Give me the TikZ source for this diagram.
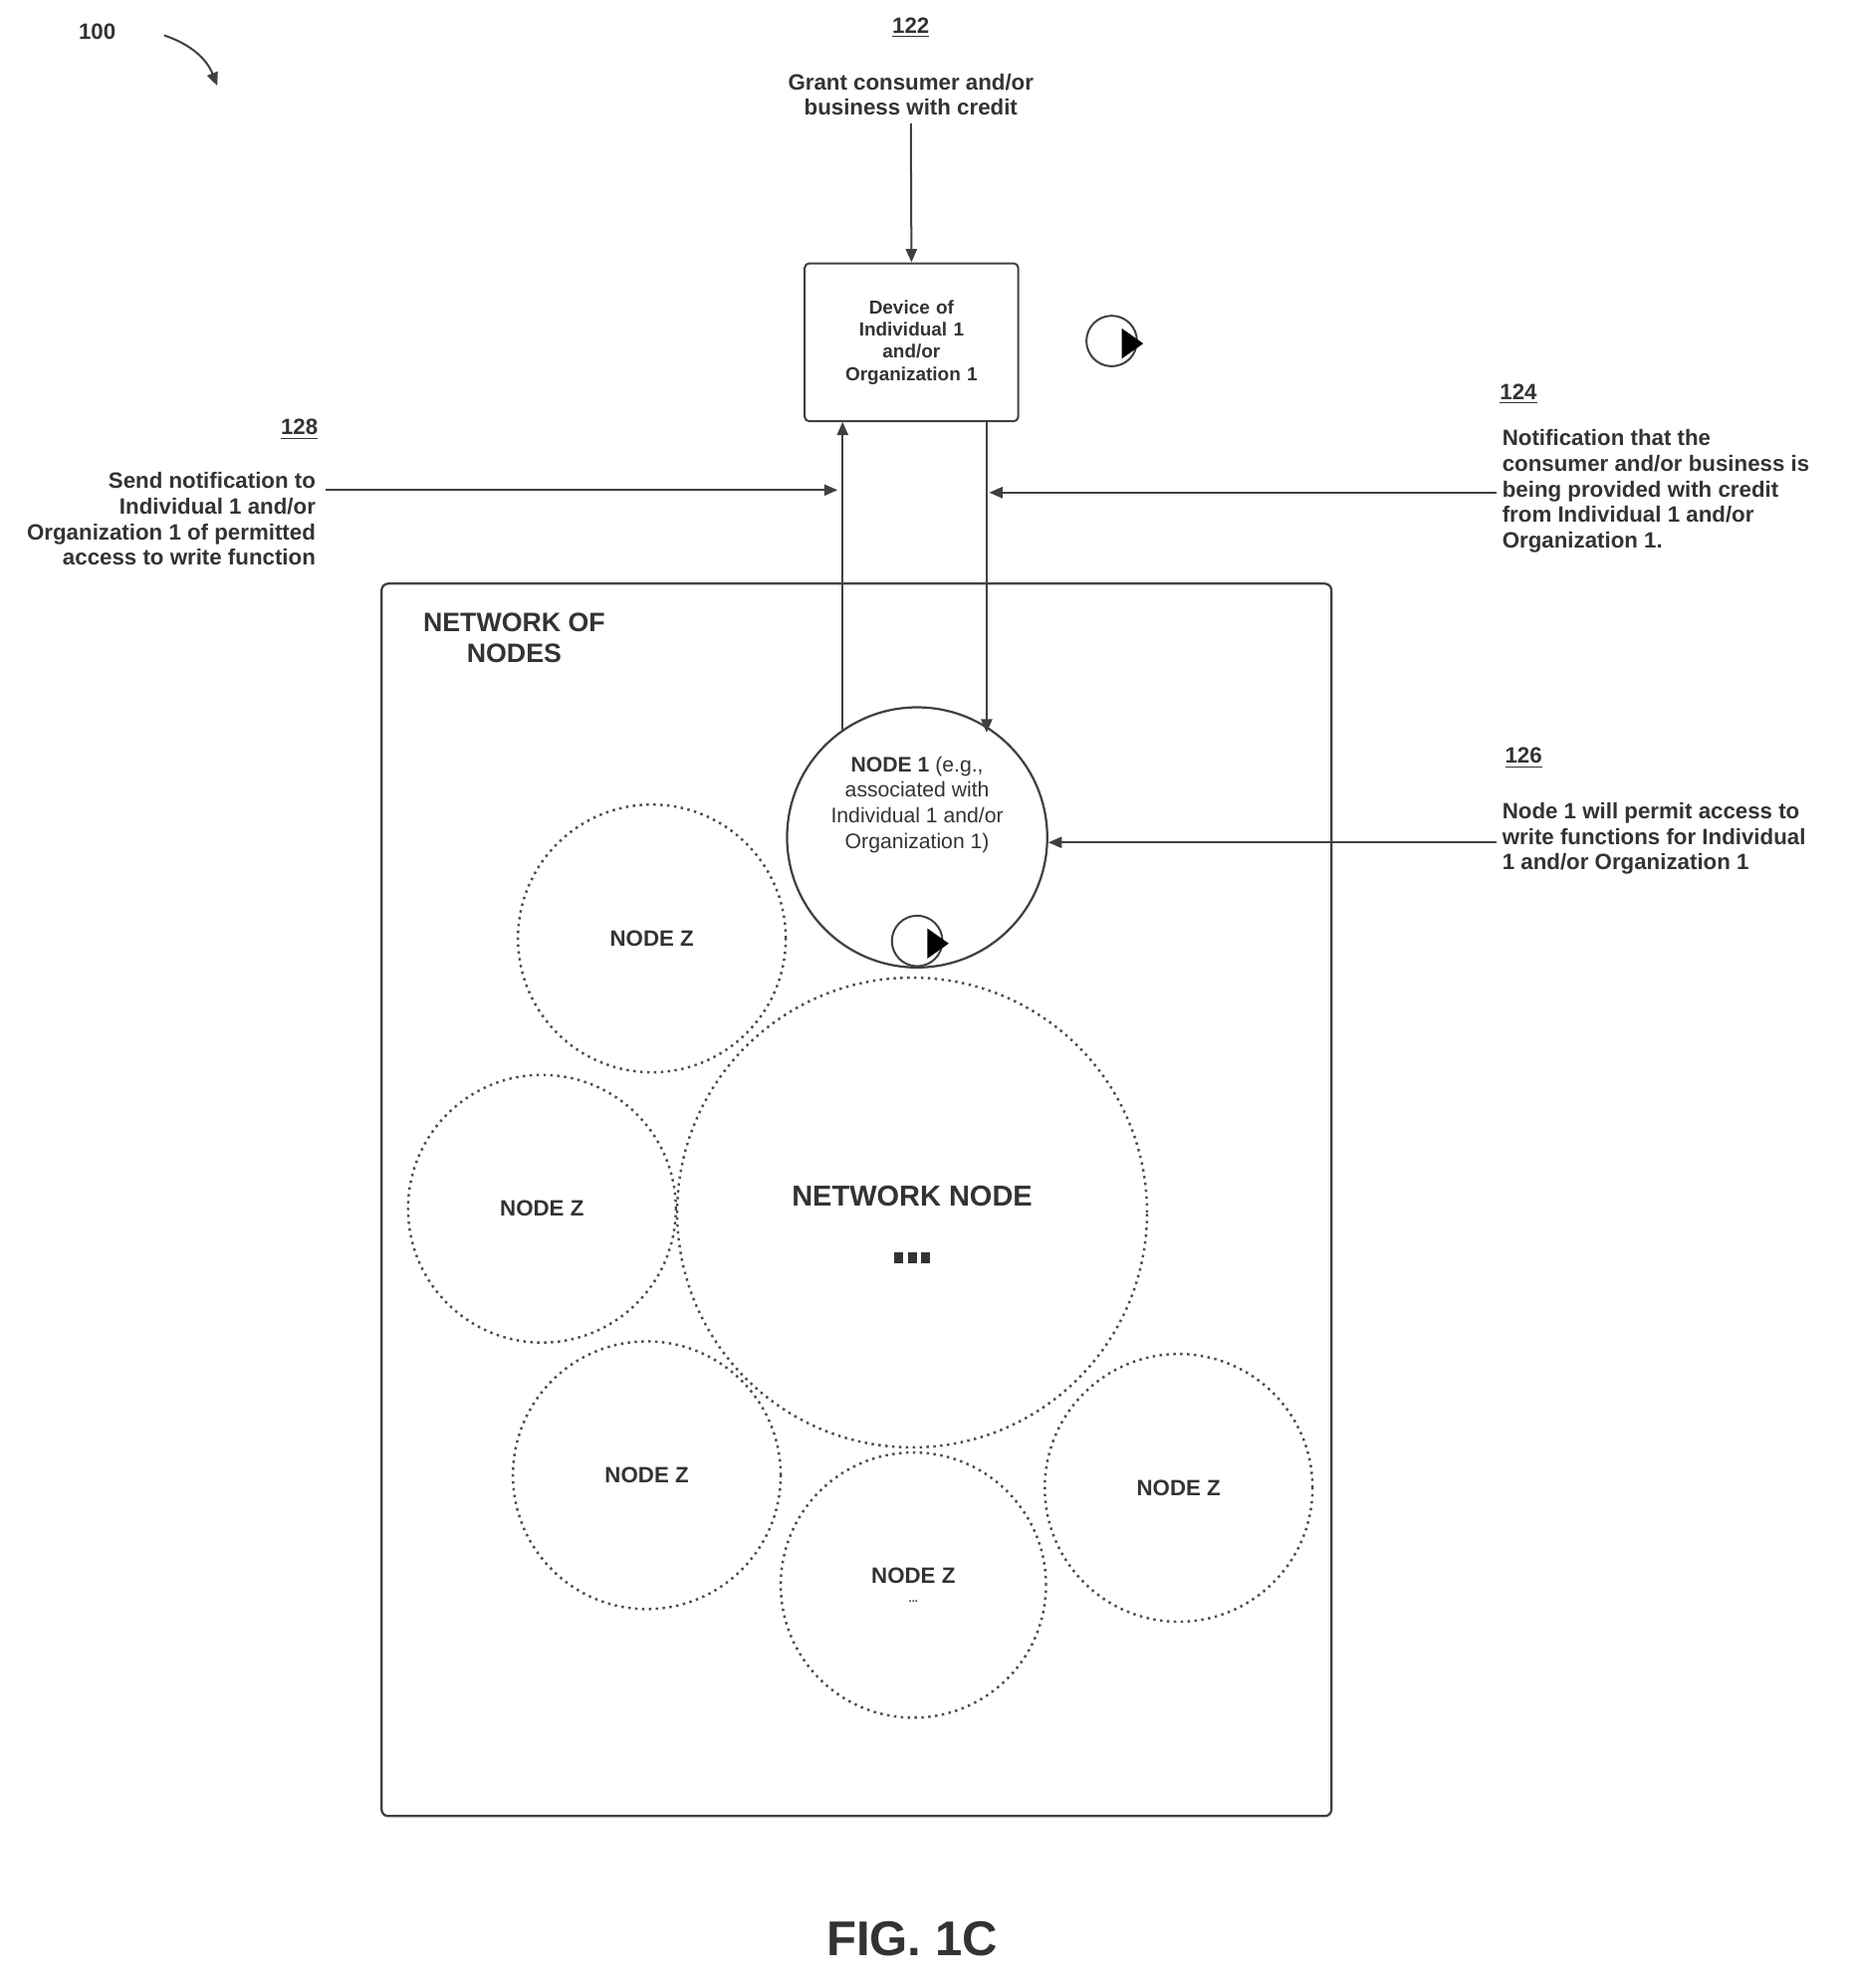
\documentclass[tikz,border=0pt]{standalone}
\usepackage{fontspec}
\setmainfont{Liberation Sans}
\usetikzlibrary{arrows.meta}
\begin{document}
\begin{tikzpicture}[x=0.02cm,y=-0.02cm,
  ln/.style={draw=black!75,line width=0.9pt},
  arr/.style={ln,-{Triangle[length=6pt,width=5pt]}},
  dotc/.style={circle,draw=black!70,dotted,line width=1.1pt},
  t/.style={font=\bfseries\fontsize{10}{11.5}\selectfont,text=black!80,align=center},
  lab/.style={font=\bfseries\fontsize{10}{11}\selectfont,text=black!80}]
\useasboundingbox (0,0) rectangle (1466,1574);
% refs
\node[lab] (n100) at (77,25) {100};
\coordinate (a100s) at (130,28); \coordinate (a100e) at (172,68);
\draw[arr] (a100s) to[bend left=25] (a100e);
\node[lab] (n122) at (721,22) {\underline{122}};
\node[t] (g122) at (721,75) {Grant consumer and/or\\business with credit};
\node[t,draw=black!75,line width=0.9pt,rounded corners=2pt,minimum width=3.38cm,text width=3cm,minimum height=2.5cm,font=\bfseries\fontsize{8.5}{10}\selectfont] (dev) at (721.5,271) {Device of\\Individual 1\\and/or\\Organization 1};
\draw[arr] (g122.south) -- (dev.north);
% network
\node[draw=black!75,line width=1pt,rounded corners=3pt,minimum width=15.04cm,minimum height=19.52cm] (net) at (678,950) {};
\node[font=\bfseries\fontsize{12}{14}\selectfont,text=black!80,align=center] (nettxt) at (407,505) {NETWORK OF\\NODES};
\node[circle,draw=black!75,line width=1pt,minimum size=4.12cm,inner sep=0pt,align=center,text=black!80,font=\fontsize{9.5}{11.5}\selectfont] (n1) at (726,663) {\textbf{NODE 1} (e.g.,\\associated with\\Individual 1 and/or\\Organization 1)\\[20pt]};
\node[dotc,minimum size=4.24cm,t] (z1) at (516,743) {NODE Z};
\node[dotc,minimum size=4.24cm,t] (z2) at (429,957) {NODE Z};
\node[dotc,minimum size=7.44cm,font=\bfseries\fontsize{13}{16}\selectfont,text=black!80,align=center] (nn) at (722,960) {\\[4pt]NETWORK NODE\\[10pt]\rule{4pt}{5pt}\,\rule{4pt}{5pt}\,\rule{4pt}{5pt}};
\node[dotc,minimum size=4.24cm,t] (z3) at (512,1168) {NODE Z};
\node[dotc,minimum size=4.2cm,t] (z4) at (723,1255) {NODE Z\\[-3pt]\tiny ...};
\node[dotc,minimum size=4.24cm,t] (z5) at (933,1178) {NODE Z};
% icons
\node[circle,draw=black!75,line width=0.9pt,minimum size=0.8cm] (ic1) at (880,270) {};
\fill[black] (888,260) -- (905,272) -- (888,284) -- cycle;
\node[circle,draw=black!75,line width=0.9pt,minimum size=0.8cm] (ic2) at (726,745) {};
\fill[black] (734,735) -- (751,747) -- (734,759) -- cycle;
% vertical connectors
\coordinate (lb) at (667,578); \coordinate (lt) at (667,334);
\coordinate (rt) at (781,334); \coordinate (rb) at (781,580);
\draw[arr] (lb) -- (lt);
\draw[arr] (rt) -- (rb);
% 128
\node[lab] (n128) at (237,340) {\underline{128}};
\node[t,align=right,anchor=east] (t128) at (256,411) {Send notification to\\Individual 1 and/or\\Organization 1 of permitted\\access to write function};
\coordinate (a128) at (663,388);
\draw[arr] (258,388) -- (a128);
% 124
\node[lab] (n124) at (1202,312) {\underline{124}};
\node[t,align=left,anchor=west] (t124) at (1183,389) {Notification that the\\consumer and/or business is\\being provided with credit\\from Individual 1 and/or\\Organization 1.};
\coordinate (a124) at (783,390);
\draw[arr] (1185,390) -- (a124);
% 126
\node[lab] (n126) at (1206,600) {\underline{126}};
\node[t,align=left,anchor=west] (t126) at (1183,664) {Node 1 will permit access to\\write functions for Individual\\1 and/or Organization 1};
\draw[arr] (1185,667) -- (n1.east|-0,667);
\node[font=\bfseries\fontsize{22}{26}\selectfont,text=black!80] (fig) at (722,1535) {FIG. 1C};
\end{tikzpicture}
\end{document}
